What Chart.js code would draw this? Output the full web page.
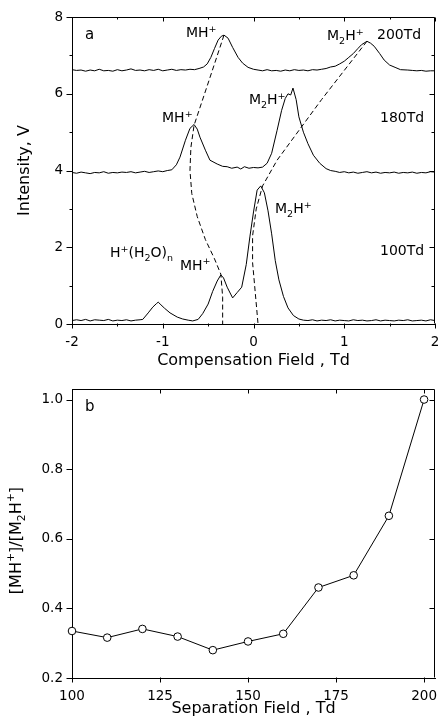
<!DOCTYPE html>
<html>
<head>
<meta charset="utf-8">
<script src="https://cdn.jsdelivr.net/npm/chart.js@4/dist/chart.umd.min.js"></script>
<style>
  html, body { margin: 0; padding: 0; background: #fff; }
  #wrap { position: relative; width: 440px; height: 723px; }
  canvas { position: absolute; left: 0; }
  #grafA { top: 0; }
  #grafB { top: 372px; }
</style>
</head>
<body>
<div id="wrap">
  <canvas id="grafA" width="440" height="372"></canvas>
  <canvas id="grafB" width="440" height="351"></canvas>
</div>
<script>
// panel a : spectra [compensation field (Td), intensity (V)]
const trace100 = [
  [-2.00,0.09],[-1.95,0.11],[-1.90,0.09],[-1.85,0.12],[-1.80,0.08],[-1.75,0.11],[-1.70,0.10],[-1.65,0.09],
  [-1.60,0.12],[-1.55,0.08],[-1.50,0.10],[-1.45,0.09],[-1.40,0.11],[-1.35,0.08],[-1.30,0.10],[-1.25,0.11],
  [-1.22,0.12],[-1.16,0.29],[-1.11,0.44],[-1.07,0.53],[-1.05,0.57],[-1.02,0.50],[-0.98,0.41],[-0.92,0.29],
  [-0.84,0.18],[-0.78,0.13],[-0.72,0.10],[-0.67,0.08],[-0.61,0.12],[-0.56,0.27],[-0.50,0.52],[-0.45,0.85],
  [-0.40,1.12],[-0.36,1.28],[-0.33,1.20],[-0.29,0.96],[-0.23,0.68],[-0.18,0.82],[-0.13,0.96],[-0.08,1.55],
  [-0.04,2.27],[0.00,2.92],[0.04,3.49],[0.08,3.60],[0.12,3.42],[0.16,2.95],[0.20,2.35],[0.24,1.65],
  [0.28,1.15],[0.33,0.72],[0.38,0.42],[0.44,0.22],[0.50,0.13],[0.55,0.10],[0.60,0.09],[0.65,0.11],
  [0.70,0.08],[0.75,0.10],[0.80,0.09],[0.85,0.11],[0.90,0.08],[0.95,0.10],[1.00,0.09],[1.05,0.08],
  [1.10,0.11],[1.15,0.09],[1.20,0.10],[1.25,0.08],[1.30,0.09],[1.35,0.11],[1.40,0.08],[1.45,0.10],
  [1.50,0.09],[1.55,0.08],[1.60,0.10],[1.65,0.09],[1.70,0.11],[1.75,0.08],[1.80,0.09],[1.85,0.10],
  [1.90,0.08],[1.95,0.11],[2.00,0.09]
];
const trace180 = [
  [-2.00,3.95],[-1.95,3.93],[-1.90,3.96],[-1.85,3.94],[-1.80,3.92],[-1.75,3.95],[-1.70,3.94],[-1.65,3.97],
  [-1.60,3.93],[-1.55,3.95],[-1.50,3.94],[-1.45,3.96],[-1.40,3.95],[-1.35,3.97],[-1.30,3.94],[-1.25,3.96],
  [-1.20,3.98],[-1.15,3.95],[-1.10,3.97],[-1.05,3.99],[-1.00,3.97],[-0.95,4.00],[-0.90,4.02],[-0.85,4.15],
  [-0.81,4.35],[-0.75,4.79],[-0.70,5.10],[-0.655,5.20],[-0.62,5.08],[-0.59,4.87],[-0.53,4.53],[-0.48,4.27],
  [-0.40,4.17],[-0.34,4.11],[-0.29,4.10],[-0.24,4.06],[-0.18,4.09],[-0.14,4.04],[-0.10,4.10],[-0.05,4.06],
  [0.00,4.08],[0.05,4.07],[0.10,4.09],[0.15,4.19],[0.20,4.45],[0.26,5.05],[0.31,5.57],[0.35,5.88],
  [0.38,6.00],[0.41,5.97],[0.435,6.15],[0.47,5.85],[0.50,5.40],[0.55,5.00],[0.60,4.70],[0.66,4.40],
  [0.73,4.19],[0.80,4.05],[0.85,4.00],[0.90,3.98],[0.95,3.95],[1.00,3.97],[1.05,3.94],[1.10,3.96],
  [1.15,3.93],[1.20,3.95],[1.25,3.97],[1.30,3.94],[1.35,3.96],[1.40,3.93],[1.45,3.95],[1.50,3.94],
  [1.55,3.96],[1.60,3.93],[1.65,3.95],[1.70,3.94],[1.75,3.96],[1.80,3.93],[1.85,3.95],[1.90,3.94],
  [1.95,3.97],[2.00,3.96]
];
const trace200 = [
  [-2.00,6.63],[-1.95,6.61],[-1.90,6.62],[-1.85,6.59],[-1.80,6.62],[-1.75,6.60],[-1.70,6.64],[-1.65,6.60],
  [-1.60,6.61],[-1.55,6.59],[-1.50,6.63],[-1.45,6.60],[-1.40,6.62],[-1.35,6.65],[-1.30,6.61],[-1.25,6.62],
  [-1.20,6.60],[-1.15,6.63],[-1.10,6.61],[-1.05,6.64],[-1.00,6.60],[-0.95,6.62],[-0.90,6.64],[-0.85,6.61],
  [-0.80,6.63],[-0.75,6.62],[-0.70,6.64],[-0.65,6.63],[-0.60,6.66],[-0.55,6.70],[-0.51,6.78],[-0.47,6.95],
  [-0.43,7.18],[-0.39,7.40],[-0.355,7.50],[-0.325,7.53],[-0.28,7.45],[-0.23,7.21],[-0.17,6.95],[-0.12,6.80],
  [-0.06,6.69],[0.00,6.64],[0.05,6.62],[0.10,6.60],[0.15,6.63],[0.20,6.60],[0.25,6.61],[0.30,6.59],
  [0.35,6.62],[0.40,6.60],[0.45,6.63],[0.50,6.61],[0.55,6.62],[0.60,6.60],[0.65,6.63],[0.70,6.62],
  [0.75,6.64],[0.80,6.66],[0.85,6.70],[0.90,6.72],[0.95,6.78],[1.00,6.85],[1.05,6.95],[1.10,7.05],
  [1.15,7.18],[1.19,7.28],[1.25,7.37],[1.29,7.32],[1.33,7.24],[1.39,7.05],[1.44,6.88],[1.50,6.75],
  [1.56,6.69],[1.62,6.63],[1.70,6.62],[1.75,6.61],[1.80,6.60],[1.85,6.61],[1.90,6.59],[1.95,6.60],
  [2.00,6.60]
];
// dashed guides following the MH+ and M2H+ peaks
const guideMH = [[-0.325,7.53],[-0.49,6.35],[-0.655,5.18],[-0.69,4.6],[-0.70,4.0],[-0.68,3.4],
  [-0.62,2.8],[-0.53,2.2],[-0.43,1.7],[-0.36,1.3],[-0.34,0.7],[-0.34,0]];
const guideM2H = [[1.25,7.37],[0.75,5.85],[0.26,4.27],[0.10,3.6],[0.03,3.0],[-0.01,2.3],
  [-0.01,1.6],[0.02,0.8],[0.05,0]];
const cfTicks = [-2, -1, 0, 1, 2];
const cfMinor = [-1.5, -0.5, 0.5, 1.5];
const intTicks = [0, 2, 4, 6, 8];
const intMinor = [1, 3, 5, 7];

// panel b : ratio vs separation field
const sepField = [100, 110, 120, 130, 140, 150, 160, 170, 180, 190, 200];
const ratio = [0.335, 0.316, 0.341, 0.319, 0.280, 0.305, 0.327, 0.460, 0.495, 0.666, 1.000];
const sfTicks = [100, 125, 150, 175, 200];
const ratioTicks = [0.2, 0.4, 0.6, 0.8, 1.0];

const FONT = 'DejaVu Sans';
const tickFont = { family: FONT, size: 13.5 };
const titleFont = { family: FONT, size: 16 };

function pts(arr) { return arr.map(p => ({ x: p[0], y: p[1] })); }

// text with sub/superscripts, left/alphabetic
function richText(ctx, parts, x, y, size, measureOnly) {
  let cx = x;
  for (const [t, m] of parts) {
    const s = m ? size * 0.68 : size;
    ctx.font = s + 'px "' + FONT + '"';
    const dy = m === 'sup' ? -size * 0.40 : (m === 'sub' ? size * 0.26 : 0);
    if (!measureOnly) ctx.fillText(t, cx, y + dy);
    cx += ctx.measureText(t).width;
  }
  return cx - x;
}

function framePlugin(cfg) {
  return {
    id: 'frame',
    afterDraw(chart) {
      const { ctx, chartArea: a, scales: { x, y } } = chart;
      const L = Math.round(a.left) + 0.5, R = Math.round(a.right) - 0.5;
      const T = Math.round(a.top) + 0.5, B = Math.round(a.bottom) - 0.5;
      ctx.save();
      ctx.strokeStyle = '#000';
      ctx.lineWidth = 1;
      ctx.beginPath();
      ctx.moveTo(L, T); ctx.lineTo(R, T); ctx.lineTo(R, B);
      const xt = (vals, outB, inT) => vals.forEach(v => {
        const px = Math.round(x.getPixelForValue(v)) + 0.5;
        ctx.moveTo(px, B); ctx.lineTo(px, B + outB);
        ctx.moveTo(px, T); ctx.lineTo(px, T + inT);
      });
      const yt = (vals, outL, inR) => vals.forEach(v => {
        const py = Math.round(y.getPixelForValue(v)) + 0.5;
        ctx.moveTo(L, py); ctx.lineTo(L - outL, py);
        ctx.moveTo(R, py); ctx.lineTo(R - inR, py);
      });
      xt(cfg.xMajor, 5, 4); xt(cfg.xMinor, 3, 2);
      yt(cfg.yMajor, 6, 5); yt(cfg.yMinor, 3, 3);
      ctx.stroke();

      ctx.fillStyle = '#000';
      ctx.textAlign = 'left';
      ctx.textBaseline = 'alphabetic';
      cfg.labels.forEach(l => {
        richText(ctx, l.parts, x.getPixelForValue(l.x), y.getPixelForValue(l.y), l.size || 14);
      });
      if (cfg.yTitle) {
        const w = richText(ctx, cfg.yTitle, 0, 0, 16, true);
        ctx.translate(20.5, (a.top + a.bottom) / 2 + 7);
        ctx.rotate(-Math.PI / 2);
        richText(ctx, cfg.yTitle, -w / 2, 0, 16);
      }
      ctx.restore();
    }
  };
}

const MH = [['MH', ''], ['+', 'sup']];
const M2H = [['M', ''], ['2', 'sub'], ['H', ''], ['+', 'sup']];

new Chart(document.getElementById('grafA'), {
  type: 'scatter',
  data: {
    datasets: [
      { data: pts(trace100), showLine: true, pointRadius: 0, borderColor: '#000', borderWidth: 1 },
      { data: pts(trace180), showLine: true, pointRadius: 0, borderColor: '#000', borderWidth: 1 },
      { data: pts(trace200), showLine: true, pointRadius: 0, borderColor: '#000', borderWidth: 1 },
      { data: pts(guideMH), showLine: true, pointRadius: 0, borderColor: '#000', borderWidth: 1, borderDash: [5, 3] },
      { data: pts(guideM2H), showLine: true, pointRadius: 0, borderColor: '#000', borderWidth: 1, borderDash: [5, 3] }
    ]
  },
  options: {
    responsive: false,
    animation: false,
    events: [],
    layout: { padding: { top: 17, right: 5, bottom: 0, left: 0 } },
    plugins: { legend: { display: false }, tooltip: { enabled: false } },
    scales: {
      x: {
        type: 'linear', min: -2, max: 2,
        afterBuildTicks: s => { s.ticks = cfTicks.map(v => ({ value: v })); },
        ticks: { font: tickFont, color: '#000', padding: 10, maxRotation: 0 },
        grid: { display: false, drawTicks: false },
        border: { display: true, color: '#000', width: 1 },
        title: { display: true, text: 'Compensation Field , Td', font: titleFont, color: '#000', padding: { top: 0, bottom: 2 } },
        afterFit: s => { s.height = 48; s.paddingLeft = 0; s.paddingRight = 0; }
      },
      y: {
        min: 0, max: 8,
        afterBuildTicks: s => { s.ticks = intTicks.map(v => ({ value: v })); },
        ticks: { font: tickFont, color: '#000', padding: 9 },
        grid: { display: false, drawTicks: false },
        border: { display: true, color: '#000', width: 1 },
        title: { display: true, text: 'Intensity, V', font: titleFont, color: '#000', padding: { top: 15, bottom: 0 } },
        afterFit: s => { s.width = 72; }
      }
    }
  },
  plugins: [framePlugin({
    xMajor: cfTicks, xMinor: cfMinor, yMajor: intTicks, yMinor: intMinor,
    labels: [
      { x: -1.857, y: 7.42, parts: [['a', '']], size: 15 },
      { x: -0.744, y: 7.47, parts: MH },
      { x: 0.81, y: 7.40, parts: M2H },
      { x: 1.361, y: 7.42, parts: [['200Td', '']] },
      { x: -1.008, y: 5.26, parts: MH },
      { x: -0.05, y: 5.73, parts: M2H },
      { x: 1.394, y: 5.26, parts: [['180Td', '']] },
      { x: 0.237, y: 2.89, parts: M2H },
      { x: 1.394, y: 1.80, parts: [['100Td', '']] },
      { x: -0.81, y: 1.41, parts: MH },
      { x: -1.581, y: 1.74, parts: [['H', ''], ['+', 'sup'], ['(H', ''], ['2', 'sub'], ['O)', ''], ['n', 'sub']] }
    ]
  })]
});

new Chart(document.getElementById('grafB'), {
  type: 'scatter',
  data: {
    datasets: [{
      data: sepField.map((v, i) => ({ x: v, y: ratio[i] })),
      showLine: true, borderColor: '#000', borderWidth: 1,
      pointRadius: 3.8, pointBackgroundColor: '#fff', pointBorderColor: '#000', pointBorderWidth: 1,
      clip: false
    }]
  },
  options: {
    responsive: false,
    animation: false,
    events: [],
    layout: { padding: { top: 5, right: 2, bottom: 0, left: 0 } },
    plugins: { legend: { display: false }, tooltip: { enabled: false } },
    scales: {
      x: {
        type: 'linear', min: 100, max: 203.1,
        afterBuildTicks: s => { s.ticks = sfTicks.map(v => ({ value: v })); },
        ticks: { font: tickFont, color: '#000', padding: 10, maxRotation: 0 },
        grid: { display: false, drawTicks: false },
        border: { display: true, color: '#000', width: 1 },
        title: { display: true, text: 'Separation Field , Td', font: titleFont, color: '#000', padding: { top: 0, bottom: 5 } },
        afterFit: s => { s.height = 45; s.paddingLeft = 0; s.paddingRight = 0; }
      },
      y: {
        min: 0.2, max: 1.03,
        afterBuildTicks: s => { s.ticks = ratioTicks.map(v => ({ value: v })); },
        ticks: { font: tickFont, color: '#000', padding: 9, callback: v => v.toFixed(1) },
        grid: { display: false, drawTicks: false },
        border: { display: true, color: '#000', width: 1 },
        afterFit: s => { s.width = 72; }
      }
    }
  },
  plugins: [framePlugin({
    xMajor: sfTicks, xMinor: [], yMajor: ratioTicks, yMinor: [],
    labels: [{ x: 103.7, y: 0.967, parts: [['b', '']], size: 15 }],
    yTitle: [['[MH', ''], ['+', 'sup'], [']/[M', ''], ['2', 'sub'], ['H', ''], ['+', 'sup'], [']', '']]
  })]
});
</script>
</body>
</html>
